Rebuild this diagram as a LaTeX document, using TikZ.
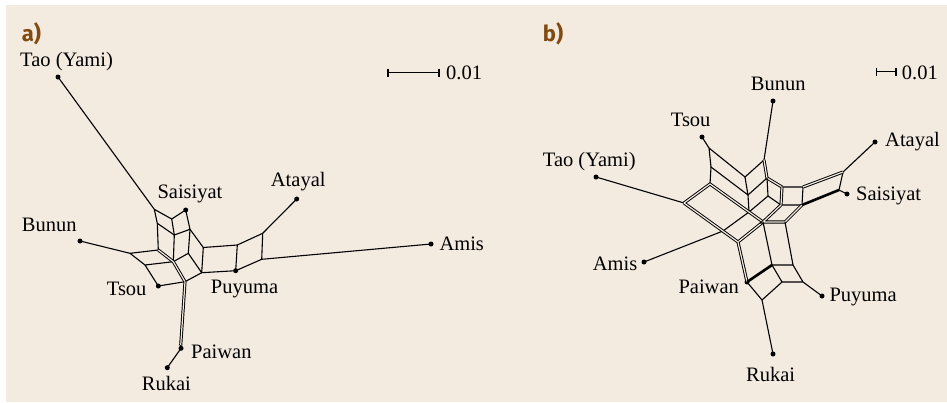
\documentclass[tikz,border=0pt]{standalone}
\usepackage{fontspec}
\setmainfont{Liberation Serif}
\newfontfamily\panelfont{Fira Sans}
\definecolor{bgc}{RGB}{243,234,224}
\definecolor{panelc}{RGB}{128,74,16}
\tikzset{
  net/.style={line width=1.1pt, line join=round, line cap=round},
  dbl/.style={line width=0.95pt, double=bgc, double distance=1.2pt},
  thick3/.style={line width=2.6pt},
  leaf/.style={circle, fill=black, inner sep=0pt, minimum size=5pt},
  taxon/.style={font=\fontsize{20.5}{24}\selectfont, inner sep=0pt, anchor=base west},
  panel/.style={font=\panelfont\bfseries\fontsize{22}{26}\selectfont, text=panelc, inner sep=0pt, anchor=base west},
  bar/.style={line width=1.1pt}
}
\begin{document}
\begin{tikzpicture}[x=1pt,y=-1pt]
\useasboundingbox (0,0) rectangle (947,402);
\fill[bgc] (6,5) rectangle (947,402);

% ---------------- panel a ----------------
\node[panel] (pa) at (21.7,41) {a)};
\draw[bar] (388,68.5) -- (388,76.5);
\draw[bar] (439,68.5) -- (439,76.5);
\draw[bar] (388,72.5) coordinate (sa1) -- (439,72.5) coordinate (sa2);
\node[taxon] (sla) at (446,79.3) {0.01};

% leaves
\node[leaf] (aTao) at (58,77) {};
\node[leaf] (aSai) at (185.7,210) {};
\node[leaf] (aAta) at (296.7,199) {};
\node[leaf] (aBun) at (80,241) {};
\node[leaf] (aAmi) at (431,244) {};
\node[leaf] (aTso) at (158.3,286) {};
\node[leaf] (aPuy) at (235.7,270.7) {};
\node[leaf] (aPai) at (181,348.3) {};
\node[leaf] (aRuk) at (167.3,367.7) {};

% inner vertices
\coordinate (A1) at (154.3,209.3);
\coordinate (A2) at (171.7,219);
\coordinate (A3) at (157.3,223.3);
\coordinate (A4) at (174.3,235);
\coordinate (A5) at (190,229.3);
\coordinate (A6) at (158.3,250);
\coordinate (A7) at (173.3,261.7);
\coordinate (A8) at (188.3,253.3);
\coordinate (A9) at (203.3,247.5);
\coordinate (A10) at (201.7,272.7);
\coordinate (A11) at (185,281.7);
\coordinate (B1) at (130,253.3);
\coordinate (B2) at (145,265);
\coordinate (AN) at (237.3,245);
\coordinate (AO) at (262.7,233.3);
\coordinate (AP) at (261.7,259.3);
\coordinate (APa) at (180.7,345.5);

\draw[net] (aTao.center) -- (A1) -- (A2) -- (aSai.center) -- (A5) -- (A4) -- (A3) -- (A1);
\draw[net] (A2) -- (A4);
\draw[net] (A3) -- (A6) (A4) -- (A7) (A5) -- (A8) -- (A7);
\draw[net] (A5) -- (A9) -- (A10) -- (A8);
\draw[net] (A10) -- (A11);
\draw[net] (aBun.center) -- (B1) -- (A6) (B1) -- (B2) -- (A7) (B2) -- (aTso.center) -- (A11);
\draw[dbl] (A6) -- (A7) -- (A11);
\draw[dbl] (A11) -- (APa);
\draw[net] (APa) -- (aPai.center) -- (aRuk.center);
\draw[net] (A9) -- (AN) -- (AO) -- (AP) -- (aPuy.center) -- (A10);
\draw[net] (AN) -- (aPuy.center);
\draw[net] (AO) -- (aAta.center) (AP) -- (aAmi.center);

\node[taxon] (laTao) at (20,66.7) {Tao (Yami)};
\node[taxon] (laSai) at (157.3,198.5) {Saisiyat};
\node[taxon] (laAta) at (270.7,186.7) {Atayal};
\node[taxon] (laBun) at (21.7,231.7) {Bunun};
\node[taxon] (laAmi) at (439.3,250.5) {Amis};
\node[taxon] (laTso) at (106.7,295) {Tsou};
\node[taxon] (laPuy) at (210.7,293.5) {Puyuma};
\node[taxon] (laPai) at (191,358.3) {Paiwan};
\node[taxon] (laRuk) at (141.7,390) {Rukai};

% ---------------- panel b ----------------
\node[panel] (pb) at (542.7,41) {b)};
\draw[bar] (876.7,67.7) -- (876.7,75.7);
\draw[bar] (896,67.7) -- (896,75.7);
\draw[bar] (876.7,71.7) coordinate (sb1) -- (896,71.7) coordinate (sb2);
\node[taxon] (slb) at (901.7,79.3) {0.01};

\node[leaf] (bBun) at (773,101) {};
\node[leaf] (bTso) at (702,137) {};
\node[leaf] (bAta) at (875,142) {};
\node[leaf] (bTao) at (596,177) {};
\node[leaf] (bSai) at (847,194) {};
\node[leaf] (bAmi) at (644,262) {};
\node[leaf] (bPai) at (747,282) {};
\node[leaf] (bPuy) at (822,296) {};
\node[leaf] (bRuk) at (773,354) {};

\coordinate (b1) at (709,148);
\coordinate (b2) at (711,167);
\coordinate (b3) at (745,177);
\coordinate (b4) at (748,195);
\coordinate (b5) at (710,184);
\coordinate (b6) at (684,203);
\coordinate (b7) at (764,160);
\coordinate (b8) at (767,178);
\coordinate (m1) at (768,196);
\coordinate (r1) at (782,187);
\coordinate (r2) at (803,187);
\coordinate (r3) at (802,205);
\coordinate (r4) at (781,205);
\coordinate (a1) at (843,172);
\coordinate (a2) at (839,190);
\coordinate (c1) at (763,222);
\coordinate (c2) at (785,222);
\coordinate (p1) at (738,242);
\coordinate (n1) at (723,231);
\coordinate (n2) at (749,212);
\coordinate (q1) at (772,265);
\coordinate (q2) at (793,265);
\coordinate (q3) at (782,282);
\coordinate (q4) at (803,282);
\coordinate (u1) at (762,300);

\draw[net] (bTso.center) -- (b1) -- (b2) -- (b4) -- (b3) -- (b1);
\draw[net] (b2) -- (b5) (b3) -- (b7) -- (bBun.center) (b8) -- (b4);
\draw[dbl] (b7) -- (b8) -- (r1);
\draw[net] (b8) -- (m1) -- (n2) (m1) -- (r4);
\draw[net] (r1) -- (r2) -- (r3) -- (r4);
\draw[dbl] (r1) -- (r4);
\draw[net] (bAta.center) -- (a1) -- (a2) -- (bSai.center);
\draw[net] (b4) -- (n2) -- (n1) -- (bAmi.center);
\draw[net] (bTao.center) -- (b6);
\draw[dbl] (b6) -- (b5) -- (c1) -- (p1) -- (b6);
\draw[dbl] (a1) -- (r2) (r4) -- (c1) -- (c2) -- (r3) (p1) -- (bPai.center);
\draw[thick3] (a2) -- (r3);
\draw[net] (c2) -- (q2) -- (q1) -- (c1);
\draw[thick3] (q1) -- (bPai.center);
\draw[net] (q1) -- (q3) -- (q4) -- (q2) (q4) -- (bPuy.center);
\draw[net] (q3) -- (u1) -- (bPai.center) (u1) -- (bRuk.center);

\node[taxon] (lbBun) at (750.7,90.7) {Bunun};
\node[taxon] (lbTso) at (670.7,126.7) {Tsou};
\node[taxon] (lbAta) at (885,146) {Atayal};
\node[taxon] (lbTao) at (542.7,166.7) {Tao (Yami)};
\node[taxon] (lbSai) at (856,200) {Saisiyat};
\node[taxon] (lbAmi) at (592.7,270.7) {Amis};
\node[taxon] (lbPai) at (678.3,293.3) {Paiwan};
\node[taxon] (lbPuy) at (829.3,301.7) {Puyuma};
\node[taxon] (lbRuk) at (746,381) {Rukai};
\end{tikzpicture}
\end{document}
